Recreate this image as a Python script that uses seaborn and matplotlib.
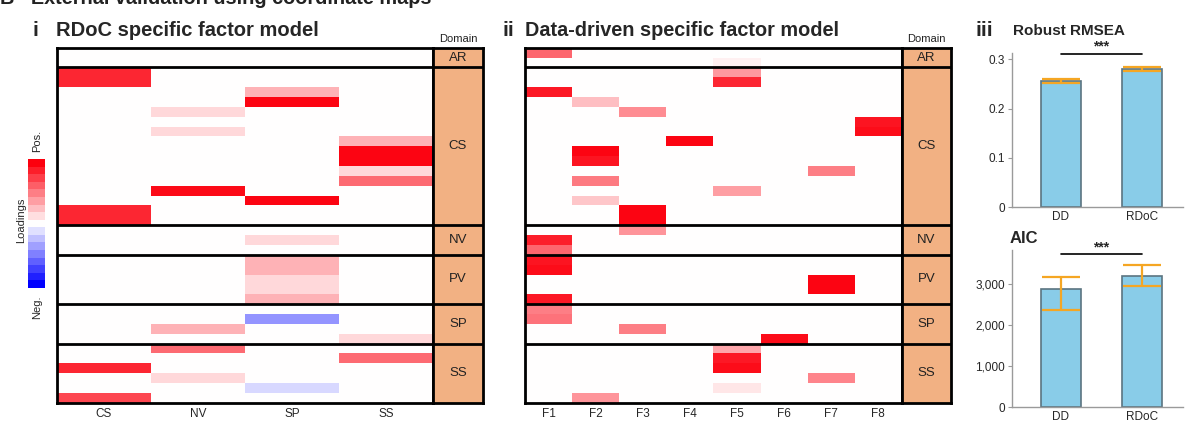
import numpy as np
import matplotlib
matplotlib.use("Agg")
import matplotlib.pyplot as plt
import seaborn as sns
from matplotlib.colors import LinearSegmentedColormap
from matplotlib.ticker import FuncFormatter

# domains (row blocks) shared by both heatmaps
domains = ["AR", "CS", "NV", "PV", "SP", "SS"]
domain_rows = [2, 16, 3, 5, 4, 6]

# panel i: RDoC specific factors, one row per item (CS, NV, SP, SS)
rdoc_factors = ["CS", "NV", "SP", "SS"]
rdoc_loadings = [
    [0, 0, 0, 0], [0, 0, 0, 0],
    [0.85, 0, 0, 0], [0.85, 0, 0, 0], [0, 0, 0.3, 0], [0, 0, 0.98, 0],
    [0, 0.15, 0, 0], [0, 0, 0, 0], [0, 0.15, 0, 0], [0, 0, 0, 0.3],
    [0, 0, 0, 0.98], [0, 0, 0, 0.98], [0, 0, 0, 0.15], [0, 0, 0, 0.58],
    [0, 0.96, 0, 0], [0, 0, 0.98, 0], [0.85, 0, 0, 0], [0.85, 0, 0, 0],
    [0, 0, 0, 0], [0, 0, 0.15, 0], [0, 0, 0, 0],
    [0, 0, 0.3, 0], [0, 0, 0.3, 0], [0, 0, 0.15, 0], [0, 0, 0.15, 0], [0, 0, 0.3, 0],
    [0, 0, 0, 0], [0, 0, -0.42, 0], [0, 0.3, 0, 0], [0, 0, 0, 0.15],
    [0, 0.58, 0, 0], [0, 0, 0, 0.58], [0.85, 0, 0, 0], [0, 0.15, 0, 0],
    [0, 0, -0.15, 0], [0.72, 0, 0, 0],
]

# panel ii: data-driven specific factors F1..F8
dd_factors = ["F1", "F2", "F3", "F4", "F5", "F6", "F7", "F8"]
dd_loadings = [
    [0.6, 0, 0, 0, 0, 0, 0, 0], [0, 0, 0, 0, 0.06, 0, 0, 0],
    [0, 0, 0, 0, 0.4, 0, 0, 0], [0, 0, 0, 0, 0.85, 0, 0, 0],
    [0.9, 0, 0, 0, 0, 0, 0, 0], [0, 0.25, 0, 0, 0, 0, 0, 0],
    [0, 0, 0.45, 0, 0, 0, 0, 0], [0, 0, 0, 0, 0, 0, 0, 0.92],
    [0, 0, 0, 0, 0, 0, 0, 0.95], [0, 0, 0, 0.98, 0, 0, 0, 0],
    [0, 0.98, 0, 0, 0, 0, 0, 0], [0, 0.92, 0, 0, 0, 0, 0, 0],
    [0, 0, 0, 0, 0, 0, 0.5, 0], [0, 0.52, 0, 0, 0, 0, 0, 0],
    [0, 0, 0, 0, 0.38, 0, 0, 0], [0, 0.22, 0, 0, 0, 0, 0, 0],
    [0, 0, 0.98, 0, 0, 0, 0, 0], [0, 0, 0.98, 0, 0, 0, 0, 0],
    [0, 0, 0.42, 0, 0, 0, 0, 0], [0.88, 0, 0, 0, 0, 0, 0, 0],
    [0.6, 0, 0, 0, 0, 0, 0, 0],
    [0.92, 0, 0, 0, 0, 0, 0, 0], [0.95, 0, 0, 0, 0, 0, 0, 0],
    [0, 0, 0, 0, 0, 0, 0.98, 0], [0, 0, 0, 0, 0, 0, 0.98, 0],
    [0.9, 0, 0, 0, 0, 0, 0, 0],
    [0.5, 0, 0, 0, 0, 0, 0, 0], [0.55, 0, 0, 0, 0, 0, 0, 0],
    [0, 0, 0.5, 0, 0, 0, 0, 0], [0, 0, 0, 0, 0, 0.95, 0, 0],
    [0, 0, 0, 0, 0.35, 0, 0, 0], [0, 0, 0, 0, 0.9, 0, 0, 0],
    [0, 0, 0, 0, 0.95, 0, 0, 0], [0, 0, 0, 0, 0, 0, 0.48, 0],
    [0, 0, 0, 0, 0.1, 0, 0, 0], [0, 0.42, 0, 0, 0, 0, 0, 0],
]

# panel iii: model fit
models = ["DD", "RDoC"]
rmsea = [0.255, 0.281]
rmsea_lo = [0.251, 0.277]
rmsea_hi = [0.259, 0.284]
aic = [2880, 3200]
aic_lo = [2360, 2950]
aic_hi = [3170, 3470]

legend_levels = [1, 0.875, 0.75, 0.625, 0.5, 0.375, 0.25, 0.125, 0,
                 -0.125, -0.25, -0.375, -0.5, -0.625, -0.75, -0.875, -1]

sns.set_theme(style="white")
plt.rcParams["font.family"] = ["Liberation Sans", "DejaVu Sans"]

cmap = LinearSegmentedColormap.from_list("bwr2", ["#0000FF", "#FFFFFF", "#FC000E"])
orange = "#F2B183"

fig = plt.figure(figsize=(11.85, 4.22), dpi=100)

bounds = np.cumsum(domain_rows)
centers = bounds - np.array(domain_rows) / 2


def loadings_panel(rect, drect, data, labels):
    ax = fig.add_axes(rect)
    sns.heatmap(np.array(data), cmap=cmap, vmin=-1, vmax=1, cbar=False,
                xticklabels=labels, yticklabels=False, ax=ax)
    ax.tick_params(axis="x", length=0, labelsize=8.5, pad=4, rotation=0)
    for b in bounds[:-1]:
        ax.axhline(b, color="black", lw=2)
    for s in ax.spines.values():
        s.set_visible(True)
        s.set_linewidth(2)
        s.set_color("black")

    dax = fig.add_axes(drect)
    dax.set_facecolor(orange)
    dax.set_xlim(0, 1)
    dax.set_ylim(bounds[-1], 0)
    for b in bounds[:-1]:
        dax.axhline(b, color="black", lw=2)
    for name, c in zip(domains, centers):
        dax.text(0.5, c, name, ha="center", va="center", fontsize=9.5, color="#222222")
    dax.set_xticks([])
    dax.set_yticks([])
    for s in dax.spines.values():
        s.set_visible(True)
        s.set_linewidth(2)
        s.set_color("black")
    dax.set_title("Domain", fontsize=8, pad=4, color="#222222")


loadings_panel([0.0481, 0.0457, 0.3173, 0.8412], [0.3654, 0.0457, 0.0422, 0.8412],
               rdoc_loadings, rdoc_factors)
loadings_panel([0.4430, 0.0457, 0.3181, 0.8412], [0.7612, 0.0457, 0.0414, 0.8412],
               dd_loadings, dd_factors)

# loadings legend
cax = fig.add_axes([0.0236, 0.3175, 0.0143, 0.3057])
sns.heatmap(np.array(legend_levels).reshape(-1, 1), cmap=cmap, vmin=-1, vmax=1,
            cbar=False, xticklabels=False, yticklabels=False, ax=cax)
fig.text(37 / 1185, 1 - 141 / 422, "Pos.", rotation=90, ha="center", va="center", fontsize=8)
fig.text(37 / 1185, 1 - 307 / 422, "Neg.", rotation=90, ha="center", va="center", fontsize=8)
fig.text(21 / 1185, 1 - 220 / 422, "Loadings", rotation=90, ha="center", va="center", fontsize=8)


def fit_panel(rect, values, lo, hi, ymax, sig_y, fmt):
    ax = fig.add_axes(rect)
    sns.barplot(x=models, y=values, ax=ax, color="#89CCE8", width=0.49,
                edgecolor="#5B7480", linewidth=1.2, saturation=1)
    yerr = [np.array(values) - np.array(lo), np.array(hi) - np.array(values)]
    ax.errorbar([0, 1], values, yerr=yerr, fmt="none", ecolor="#F5A623",
                elinewidth=1.6, capsize=14, capthick=1.6)
    ax.plot([0, 1], [sig_y, sig_y], color="black", lw=1.2, clip_on=False)
    ax.text(0.5, sig_y, "***", ha="center", va="bottom", fontsize=10, fontweight="bold")
    ax.set_xlim(-0.6, 1.5)
    ax.set_ylim(0, ymax)
    ax.yaxis.set_major_formatter(FuncFormatter(fmt))
    sns.despine(ax=ax)
    for s in ["left", "bottom"]:
        ax.spines[s].set_color("#9A9A9A")
        ax.spines[s].set_linewidth(1)
    ax.tick_params(axis="y", labelsize=8.5, length=3, width=0.8, color="#9A9A9A", pad=2, left=True)
    ax.tick_params(axis="x", labelsize=8.5, length=0, pad=2.5)
    ax.set_xlabel("")
    ax.set_ylabel("")
    return ax


fit_panel([0.854, 0.5088, 0.1443, 0.365], rmsea, rmsea_lo, rmsea_hi, 0.312, 0.311,
          lambda v, _: f"{v:g}")
fit_panel([0.854, 0.0348, 0.1443, 0.3728], aic, aic_lo, aic_hi, 3830, 3730,
          lambda v, _: f"{v:,.0f}")

# panel headings
fig.text(0.0, 1 - 4 / 422, "B   External validation using coordinate maps",
         fontsize=14.3, fontweight="bold", va="baseline", color="#222222")
fig.text(32 / 1185, 1 - 36 / 422, "i", fontsize=15, fontweight="bold", va="baseline")
fig.text(56 / 1185, 1 - 36 / 422, "RDoC specific factor model", fontsize=14.5,
         fontweight="bold", va="baseline")
fig.text(502 / 1185, 1 - 36 / 422, "ii", fontsize=15, fontweight="bold", va="baseline")
fig.text(525 / 1185, 1 - 36 / 422, "Data-driven specific factor model", fontsize=14.3,
         fontweight="bold", va="baseline")
fig.text(975 / 1185, 1 - 36 / 422, "iii", fontsize=15, fontweight="bold", va="baseline")
fig.text(1013 / 1185, 1 - 35 / 422, "Robust RMSEA", fontsize=11, fontweight="bold",
         va="baseline")
fig.text(1010 / 1185, 1 - 243 / 422, "AIC", fontsize=12, fontweight="bold", va="baseline")

fig.savefig("out.png", dpi=100)
